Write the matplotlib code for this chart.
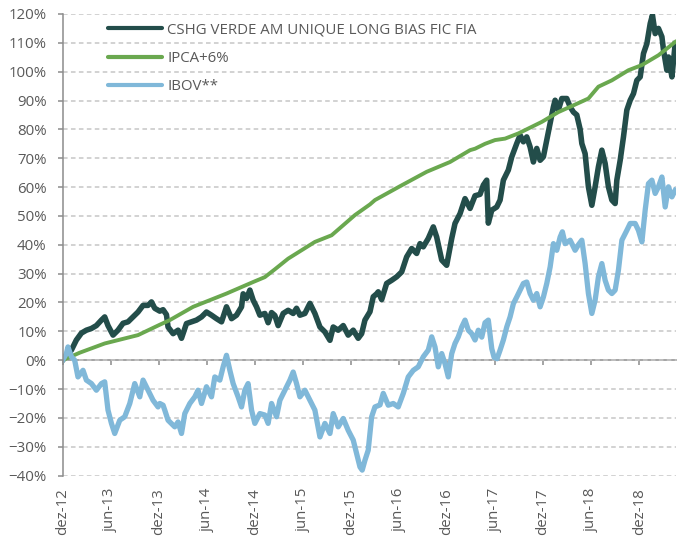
import matplotlib
matplotlib.use("Agg")
import matplotlib.pyplot as plt
from matplotlib.ticker import FuncFormatter, MultipleLocator

plt.rcParams['font.family'] = ['Open Sans', 'DejaVu Sans']

# x positions in months since dez-12
cshg_x = [0.00, 1.09, 1.71, 2.34, 2.96, 3.59, 4.21, 4.84, 5.25, 5.66, 6.29, 6.91, 7.54, 8.16, 8.79,
          9.41, 10.04, 10.66, 11.09, 11.50, 12.13, 12.54, 12.96, 13.16, 13.79, 14.41, 14.84, 15.46,
          16.09, 16.71, 17.34, 17.96, 18.59, 19.21, 19.84, 20.46, 21.09, 21.71, 22.34, 22.54, 22.96,
          23.38, 23.79, 24.21, 24.63, 25.25, 25.66, 26.09, 26.50, 26.91, 27.54, 28.16, 28.79, 29.21,
          29.63, 30.25, 30.88, 31.50, 32.13, 32.75, 33.38, 33.79, 34.41, 35.04, 35.66, 36.29, 36.91,
          37.34, 37.75, 38.38, 38.79, 39.21, 39.41, 39.84, 40.46, 41.09, 41.71, 42.34, 42.96, 43.59,
          44.21, 44.63, 45.04, 45.66, 46.29, 46.71, 47.34, 47.96, 48.59, 49.00, 49.63, 50.25, 50.88,
          51.50, 52.13, 52.54, 52.96, 53.16, 53.59, 54.21, 54.63, 55.04, 55.66, 56.09, 56.71, 57.13,
          57.54, 57.96, 58.38, 58.79, 59.21, 59.63, 60.04, 60.46, 60.88, 61.29, 61.50, 61.91, 62.34,
          62.96, 63.38, 63.79, 64.21, 64.63, 64.84, 65.25, 65.66, 66.09, 66.50, 66.91, 67.34, 67.75,
          68.16, 68.59, 69.00, 69.21, 69.63, 70.04, 70.46, 70.88, 71.29, 71.71, 72.13, 72.54, 72.96,
          73.38, 73.66, 74.00, 74.41, 74.84, 75.04, 75.46, 75.66, 76.09, 76.29, 76.50]
cshg_y = [0.0, 3.5, 7.0, 9.4, 10.4, 11.0, 12.0, 13.9, 15.0, 12.0, 8.7, 10.4, 12.8, 13.3, 15.0,
          16.7, 19.0, 19.0, 20.2, 18.0, 17.0, 17.5, 15.8, 11.5, 9.2, 10.4, 7.6, 12.7,
          13.3, 13.9, 15.0, 16.7, 15.6, 14.4, 13.3, 18.5, 14.4, 15.6, 18.5, 23.0, 21.4,
          24.3, 20.8, 18.5, 15.6, 16.2, 13.0, 16.5, 15.5, 12.0, 16.2, 17.3, 16.2, 18.0,
          15.6, 16.2, 19.7, 16.2, 11.5, 9.8, 6.9, 11.5, 10.4, 12.0, 8.7, 10.4, 7.6,
          9.2, 13.9, 16.8, 22.0, 23.0, 23.7, 21.0, 26.6, 27.7, 28.9, 30.6, 35.8, 38.7,
          37.0, 40.4, 39.3, 42.2, 46.2, 42.7, 34.7, 32.9, 42.2, 47.4, 50.8, 56.0, 52.6,
          57.0, 57.5, 60.7, 62.4, 47.5, 52.0, 53.1, 55.5, 62.4, 65.9, 70.5, 75.1, 78.0,
          75.7, 77.4, 73.9, 68.7, 73.4, 69.3, 70.5, 76.3, 82.0, 87.8, 90.1, 86.7, 90.7,
          90.7, 87.8, 86.0, 85.0, 80.0, 75.1, 71.6, 60.1, 53.7, 60.1, 67.0, 72.8, 68.2,
          60.1, 55.5, 54.3, 62.4, 69.3, 77.4, 86.7, 90.1, 92.4, 97.0, 98.2, 106.3, 109.7,
          116.7, 119.6, 113.2, 115.0, 112.1, 107.5, 100.5, 105.1, 98.2, 104.0, 109.7]

ipca_x = [0.00, 2.13, 5.25, 9.41, 12.13, 13.38, 16.29, 20.46, 23.79, 25.25, 26.50, 28.16, 31.50,
          33.59, 36.50, 38.38, 39.00, 42.13, 45.46, 48.38, 50.88, 51.50, 52.75, 54.00, 55.25,
          56.91, 59.84, 61.91, 64.00, 65.66, 66.91, 68.59, 70.66, 72.34, 74.41, 76.50]
ipca_y = [0.0, 2.6, 5.8, 8.7, 12.3, 13.9, 18.5, 23.1, 27.1, 28.8, 31.5, 35.2, 41.0,
          43.3, 50.3, 54.0, 55.5, 60.3, 65.3, 68.7, 72.8, 73.3, 75.0, 76.3, 76.8,
          78.6, 82.6, 86.0, 88.6, 90.7, 94.8, 97.0, 100.5, 102.3, 105.7, 110.3]

ibov_x = [0.00, 0.46, 0.66, 1.09, 1.50, 1.91, 2.54, 2.96, 3.59, 4.21, 4.84, 5.25, 5.66, 6.09, 6.50,
          7.13, 7.75, 8.38, 9.00, 9.63, 10.04, 10.66, 11.29, 11.91, 12.13, 12.54, 12.75, 13.16,
          14.00, 14.41, 14.84, 15.25, 15.88, 16.50, 16.91, 17.34, 17.96, 18.59, 19.00, 19.63,
          20.04, 20.46, 20.88, 21.29, 21.91, 22.34, 22.75, 23.16, 23.59, 24.00, 24.63, 25.25,
          25.66, 26.09, 26.71, 27.13, 27.75, 28.38, 28.79, 29.21, 29.63, 30.25, 30.88, 31.50,
          32.13, 32.75, 33.38, 33.79, 34.41, 35.04, 35.66, 36.29, 36.71, 37.13, 37.41, 37.75,
          38.16, 38.59, 39.00, 39.63, 40.04, 40.66, 41.29, 41.91, 42.54, 43.16, 43.79, 44.41,
          45.04, 45.66, 46.09, 46.50, 46.91, 47.34, 47.75, 48.16, 48.59, 49.00, 49.41, 49.84,
          50.25, 50.66, 51.09, 51.50, 51.91, 52.34, 52.75, 53.16, 53.59, 53.88, 54.25, 54.63,
          55.04, 55.46, 55.88, 56.29, 56.71, 57.13, 57.54, 57.96, 58.38, 58.79, 59.21, 59.63,
          60.04, 60.46, 60.88, 61.29, 61.71, 62.13, 62.41, 62.75, 63.38, 64.00, 64.41, 64.84,
          65.25, 65.66, 66.09, 66.50, 66.91, 67.34, 67.75, 68.16, 68.59, 69.00, 69.41, 69.84,
          70.46, 70.88, 71.50, 71.91, 72.34, 72.75, 73.16, 73.59, 74.00, 74.41, 74.84, 75.25,
          75.66, 76.09, 76.50]
ibov_y = [0.0, 2.3, 4.6, 1.2, 0.0, -5.8, -3.5, -6.9, -8.1, -10.4, -8.1, -7.5, -17.3, -21.9, -25.4,
          -20.8, -19.6, -15.0, -8.1, -12.7, -6.9, -10.4, -13.9, -16.2, -15.0, -15.6, -17.3, -20.8,
          -23.1, -21.4, -25.4, -18.5, -15.0, -12.7, -10.4, -15.0, -9.2, -12.7, -5.8, -6.9,
          -2.3, 1.7, -3.5, -8.1, -12.7, -16.2, -10.4, -8.1, -17.3, -21.9, -18.5, -19.0,
          -21.9, -15.0, -19.6, -13.9, -10.4, -6.9, -4.1, -8.1, -12.7, -10.4, -13.9, -17.3,
          -26.6, -21.9, -25.4, -18.5, -23.1, -20.2, -24.3, -27.7, -32.3, -37.0, -38.1, -34.7,
          -31.2, -19.6, -16.2, -15.5, -11.5, -15.6, -15.0, -16.2, -11.5, -5.8, -3.5, -2.3,
          1.2, 3.5, 8.1, 4.6, -2.3, 2.3, -1.2, -5.8, 2.3, 5.8, 8.1, 11.5,
          13.9, 10.4, 9.2, 7.0, 10.4, 8.0, 13.0, 13.9, 4.0, 1.0, 0.5, 3.5,
          7.0, 11.5, 15.0, 19.6, 21.9, 24.3, 26.6, 27.1, 23.1, 20.8, 23.1, 18.5,
          21.9, 26.6, 32.3, 40.4, 38.1, 42.7, 44.5, 40.4, 41.6, 38.1, 40.0, 41.6,
          33.5, 23.1, 16.2, 20.8, 28.9, 33.5, 27.7, 24.3, 23.1, 24.3, 31.2, 41.6,
          45.0, 47.4, 47.4, 45.0, 41.0, 52.0, 61.2, 62.4, 57.8, 60.1, 63.5, 53.1,
          60.1, 56.6, 58.9]

series_names = ["CSHG VERDE AM UNIQUE LONG BIAS FIC FIA", "IPCA+6%", "IBOV**"]
tick_months = [0, 6, 12, 18, 24, 30, 36, 42, 48, 54, 60, 66, 72]
tick_labels = ["dez-12", "jun-13", "dez-13", "jun-14", "dez-14", "jun-15", "dez-15",
               "jun-16", "dez-16", "jun-17", "dez-17", "jun-18", "dez-18"]

c_dark = "#234d4a"
c_green = "#6aa84f"
c_blue = "#80b8d9"
c_text = "#595959"
c_axis = "#8c8c8c"
fs = 10.8

fig = plt.figure(figsize=(6.82, 5.42), dpi=100)
ax = fig.add_axes([0.0919, 0.1225, 0.8993, 0.8517])

ax.plot(cshg_x, cshg_y, color=c_dark, lw=4.0, solid_joinstyle='round', label=series_names[0])
ax.plot(ipca_x, ipca_y, color=c_green, lw=2.8, label=series_names[1])
ax.plot(ibov_x, ibov_y, color=c_blue, lw=3.8, solid_joinstyle='round', label=series_names[2])

ax.set_xlim(0, 76.6)
ax.set_ylim(-40, 120)
ax.yaxis.set_major_locator(MultipleLocator(10))
ax.yaxis.set_major_formatter(FuncFormatter(lambda v, p: f"{v:.0f}%".replace("-", "\u2212")))
ax.grid(axis='y', color="#c6c6c6", lw=1.1, linestyle=(0, (3, 2.2)))
ax.set_axisbelow(True)

for s in ['top', 'right']:
    ax.spines[s].set_visible(False)
ax.spines['left'].set_color(c_axis)
ax.spines['left'].set_linewidth(1.1)
ax.spines['bottom'].set_position(('data', 0))
ax.spines['bottom'].set_color(c_axis)
ax.spines['bottom'].set_linewidth(1.1)
ax.spines['bottom'].set_zorder(0.5)

ax.tick_params(axis='y', colors=c_axis, labelcolor=c_text, labelsize=fs, length=3.5, width=1.1, pad=8)
ax.set_xticks(tick_months)
ax.tick_params(axis='x', colors=c_axis, length=3.5, width=1.1, labelbottom=False)

sec = ax.secondary_xaxis(0.0)
sec.set_xticks(tick_months)
sec.set_xticklabels(tick_labels, rotation=90)
sec.spines['bottom'].set_visible(False)
sec.tick_params(axis='x', length=0, pad=9, labelsize=fs, labelcolor=c_text)

leg = ax.legend(loc='upper left', bbox_to_anchor=(0.074, 0.982), frameon=False, fontsize=fs,
                handlelength=3.6, handletextpad=0.33, labelspacing=0.9, borderaxespad=0, borderpad=0)
for t in leg.get_texts():
    t.set_color(c_text)
for h in leg.get_lines():
    h.set_linewidth(3.0)
    h.set_solid_capstyle('round')

fig.savefig("out.png", dpi=100)
